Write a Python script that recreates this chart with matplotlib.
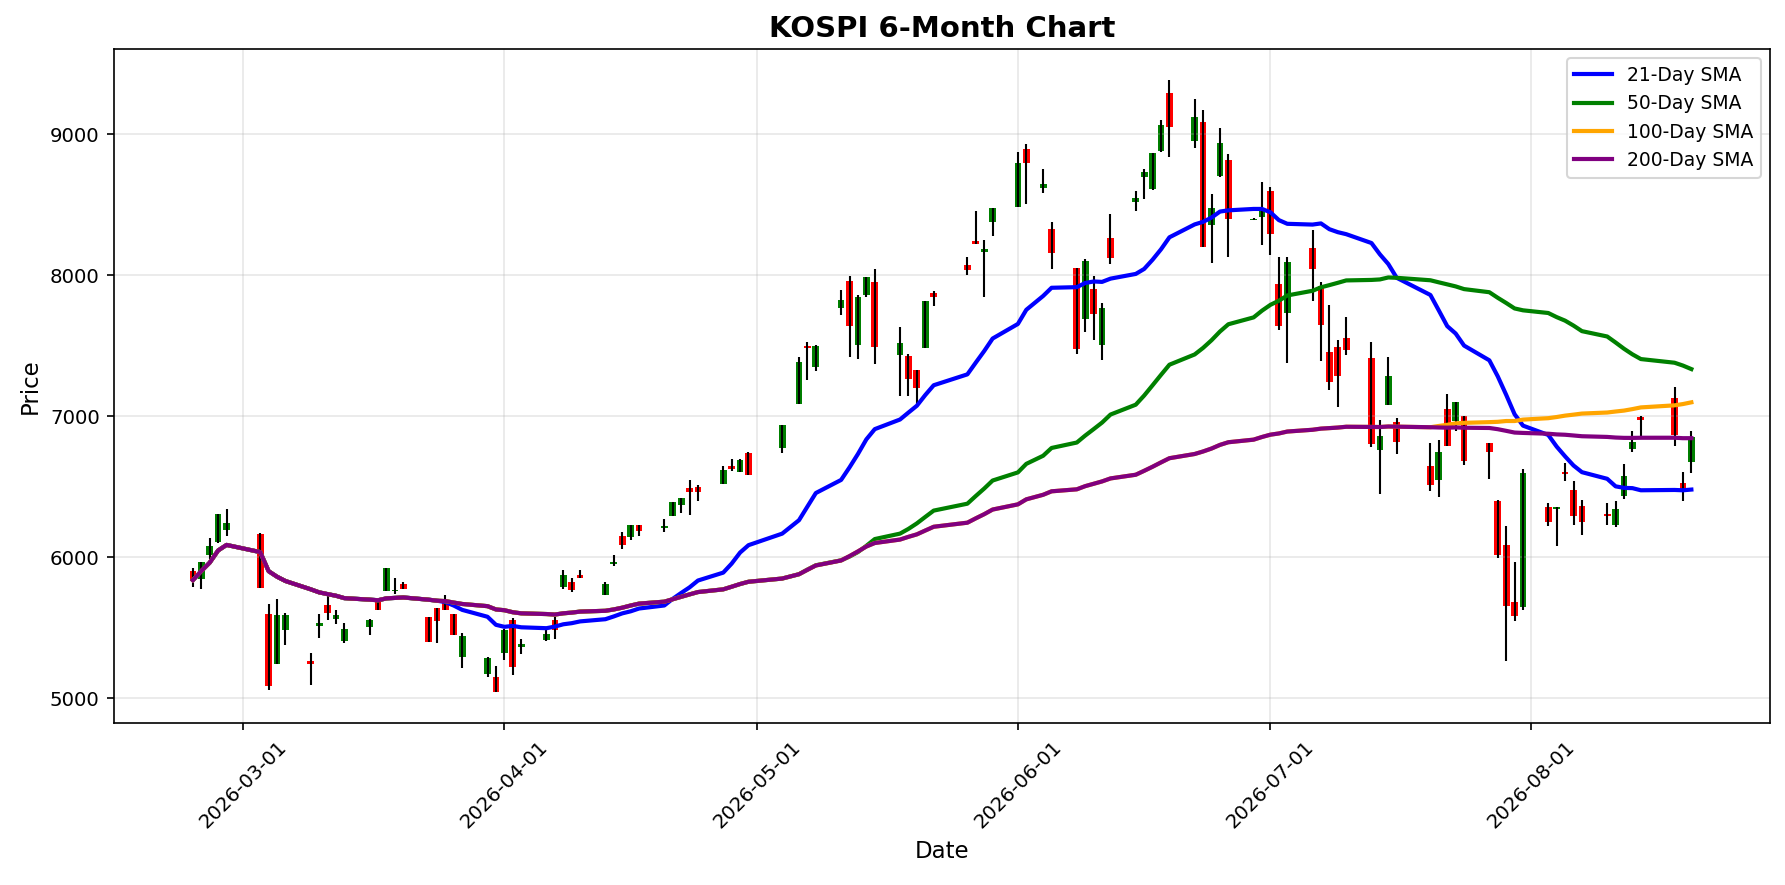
import matplotlib
matplotlib.use("Agg")
import matplotlib.pyplot as plt
import matplotlib.dates as mdates
import pandas as pd

dates = [
    "2026-02-23", "2026-02-24", "2026-02-25", "2026-02-26", "2026-02-27",
    "2026-03-03", "2026-03-04", "2026-03-05", "2026-03-06",
    "2026-03-09", "2026-03-10", "2026-03-11", "2026-03-12", "2026-03-13",
    "2026-03-16", "2026-03-17", "2026-03-18", "2026-03-19", "2026-03-20",
    "2026-03-23", "2026-03-24", "2026-03-25", "2026-03-26", "2026-03-27",
    "2026-03-30", "2026-03-31", "2026-04-01", "2026-04-02", "2026-04-03",
    "2026-04-06", "2026-04-07", "2026-04-08", "2026-04-09", "2026-04-10",
    "2026-04-13", "2026-04-14", "2026-04-15", "2026-04-16", "2026-04-17",
    "2026-04-20", "2026-04-21", "2026-04-22", "2026-04-23", "2026-04-24",
    "2026-04-27", "2026-04-28", "2026-04-29", "2026-04-30",
    "2026-05-04", "2026-05-06", "2026-05-07", "2026-05-08",
    "2026-05-11", "2026-05-12", "2026-05-13", "2026-05-14", "2026-05-15",
    "2026-05-18", "2026-05-19", "2026-05-20", "2026-05-21", "2026-05-22",
    "2026-05-26", "2026-05-27", "2026-05-28", "2026-05-29",
    "2026-06-01", "2026-06-02", "2026-06-04", "2026-06-05",
    "2026-06-08", "2026-06-09", "2026-06-10", "2026-06-11", "2026-06-12",
    "2026-06-15", "2026-06-16", "2026-06-17", "2026-06-18", "2026-06-19",
    "2026-06-22", "2026-06-23", "2026-06-24", "2026-06-25", "2026-06-26",
    "2026-06-29", "2026-06-30", "2026-07-01", "2026-07-02", "2026-07-03",
    "2026-07-06", "2026-07-07", "2026-07-08", "2026-07-09", "2026-07-10",
    "2026-07-13", "2026-07-14", "2026-07-15", "2026-07-16",
    "2026-07-20", "2026-07-21", "2026-07-22", "2026-07-23", "2026-07-24",
    "2026-07-27", "2026-07-28", "2026-07-29", "2026-07-30", "2026-07-31",
    "2026-08-03", "2026-08-04", "2026-08-05", "2026-08-06", "2026-08-07",
    "2026-08-10", "2026-08-11", "2026-08-12", "2026-08-13", "2026-08-14",
    "2026-08-18", "2026-08-19", "2026-08-20",
]

opens = [
    5906, 5847, 6014, 6111, 6191,
    6167, 5595, 5244, 5484,
    5268, 5513, 5659, 5565, 5407,
    5506, 5685, 5760, 5758, 5812,
    5579, 5642, 5673, 5595, 5296,
    5171, 5153, 5320, 5553, 5367,
    5412, 5553, 5790, 5826, 5878,
    5732, 5953, 6148, 6141, 6231,
    6205, 6290, 6372, 6490, 6497,
    6520, 6647, 6607, 6742,
    6775, 7087, 7502, 7348,
    7769, 7963, 7504, 7864, 7956,
    7438, 7431, 7331, 7485, 7876,
    8077, 8247, 8164, 8377,
    8486, 8893, 8621, 8330,
    8052, 7690, 7905, 7504, 8265,
    8520, 8697, 8615, 8879, 9293,
    8950, 9087, 8355, 8702, 8820,
    8395, 8411, 8600, 7941, 7733,
    8194, 7922, 7456, 7492, 7556,
    7414, 6759, 7078, 6960,
    6650, 6546, 7052, 6965, 7000,
    6811, 6402, 6090, 5683, 5645,
    6357, 6343, 6605, 6480, 6366,
    6310, 6232, 6433, 6768, 6995,
    7130, 6527, 6674,
]

highs = [
    5927, 5967, 6137, 6308, 6344,
    6172, 5666, 5708, 5607,
    5324, 5595, 5725, 5623, 5532,
    5560, 5713, 5925, 5854, 5828,
    5579, 5642, 5734, 5595, 5461,
    5294, 5230, 5494, 5572, 5419,
    5485, 5576, 5913, 5854, 5913,
    5823, 6019, 6179, 6231, 6231,
    6273, 6391, 6419, 6548, 6513,
    6647, 6701, 6697, 6749,
    6941, 7421, 7530, 7509,
    7899, 7998, 7859, 7991, 8046,
    7634, 7442, 7331, 7821, 7888,
    8131, 8460, 8254, 8479,
    8877, 8934, 8756, 8380,
    8052, 8118, 7993, 7804, 8437,
    8600, 8757, 8868, 9104, 9388,
    9251, 9175, 8577, 9045, 8861,
    8405, 8662, 8624, 8130, 8130,
    8319, 7953, 7792, 7544, 7702,
    7527, 6976, 7421, 6988,
    6811, 6835, 7161, 7102, 7000,
    6811, 6409, 6225, 5967, 6626,
    6385, 6357, 6669, 6544, 6409,
    6385, 6402, 6662, 6894, 7000,
    7208, 6605, 6898,
]

lows = [
    5788, 5774, 5990, 6105, 6148,
    5783, 5061, 5244, 5379,
    5096, 5426, 5555, 5524, 5390,
    5447, 5630, 5760, 5741, 5772,
    5400, 5390, 5630, 5447, 5214,
    5153, 5042, 5273, 5164, 5313,
    5407, 5423, 5772, 5753, 5854,
    5732, 5936, 6061, 6120, 6153,
    6177, 6290, 6318, 6301, 6403,
    6520, 6614, 6607, 6584,
    6740, 7087, 7255, 7319,
    7717, 7419, 7407, 7845, 7371,
    7142, 7142, 7087, 7485, 7781,
    8006, 8219, 7845, 8278,
    8486, 8508, 8586, 8046,
    7442, 7596, 7539, 7402, 8080,
    8454, 8541, 8608, 8872, 8839,
    8901, 8201, 8087, 8695, 8128,
    8390, 8218, 8142, 7615, 7378,
    7816, 7395, 7184, 7064, 7433,
    6780, 6449, 7078, 6733,
    6468, 6426, 6787, 6894, 6653,
    6556, 5995, 5262, 5546, 5624,
    6220, 6078, 6539, 6232, 6156,
    6232, 6213, 6414, 6747, 6858,
    6787, 6397, 6598,
]

closes = [
    5838, 5967, 6082, 6308, 6245,
    5783, 5089, 5588, 5588,
    5244, 5536, 5602, 5588, 5489,
    5553, 5630, 5925, 5765, 5772,
    5400, 5548, 5630, 5447, 5442,
    5284, 5047, 5484, 5223, 5383,
    5454, 5484, 5878, 5767, 5854,
    5814, 5967, 6085, 6231, 6184,
    6224, 6391, 6419, 6466, 6466,
    6619, 6629, 6690, 6584,
    6941, 7386, 7483, 7502,
    7828, 7639, 7847, 7991, 7490,
    7521, 7265, 7201, 7821, 7845,
    8041, 8219, 8190, 8479,
    8799, 8799, 8645, 8160,
    7478, 8104, 7726, 7768, 8123,
    8548, 8733, 8868, 9069, 9052,
    9123, 8201, 8478, 8939, 8402,
    8400, 8478, 8296, 7638, 8095,
    8045, 7650, 7244, 7284, 7468,
    6804, 6863, 7288, 6818,
    6511, 6747, 6787, 7102, 6681,
    6745, 6014, 5653, 5582, 6598,
    6251, 6357, 6591, 6291, 6251,
    6296, 6345, 6579, 6818, 6972,
    6865, 6463, 6853,
]

df = pd.DataFrame({"Open": opens, "High": highs, "Low": lows, "Close": closes},
                  index=pd.to_datetime(dates))

fig, ax = plt.subplots(figsize=(11.9, 5.9), dpi=150)
fig.subplots_adjust(left=0.064, right=0.9916, top=0.9446, bottom=0.183)

up = df[df["Close"] >= df["Open"]]
down = df[df["Close"] < df["Open"]]

ax.bar(up.index, up["Close"] - up["Open"], bottom=up["Open"], width=0.8, color="green")
ax.bar(down.index, down["Open"] - down["Close"], bottom=down["Close"], width=0.8, color="red")
ax.vlines(df.index, df["Low"], df["High"], color="black", linewidth=1)

# moving averages
for window, col in [(21, "blue"), (50, "green"), (100, "orange"), (200, "purple")]:
    sma = df["Close"].rolling(window=window, min_periods=1).mean()
    ax.plot(df.index, sma, color=col, linewidth=2, label=f"{window}-Day SMA")

ax.set_title("KOSPI 6-Month Chart", fontsize=14, fontweight="bold")
ax.set_xlabel("Date", fontsize=11)
ax.set_ylabel("Price", fontsize=11)
ax.tick_params(labelsize=9.5)
ax.grid(True, alpha=0.3)
ax.legend(loc="upper right", fontsize=9)

ax.xaxis.set_major_locator(mdates.MonthLocator())
ax.xaxis.set_major_formatter(mdates.DateFormatter("%Y-%m-%d"))
plt.setp(ax.get_xticklabels(), rotation=45)

plt.savefig("out.png")
